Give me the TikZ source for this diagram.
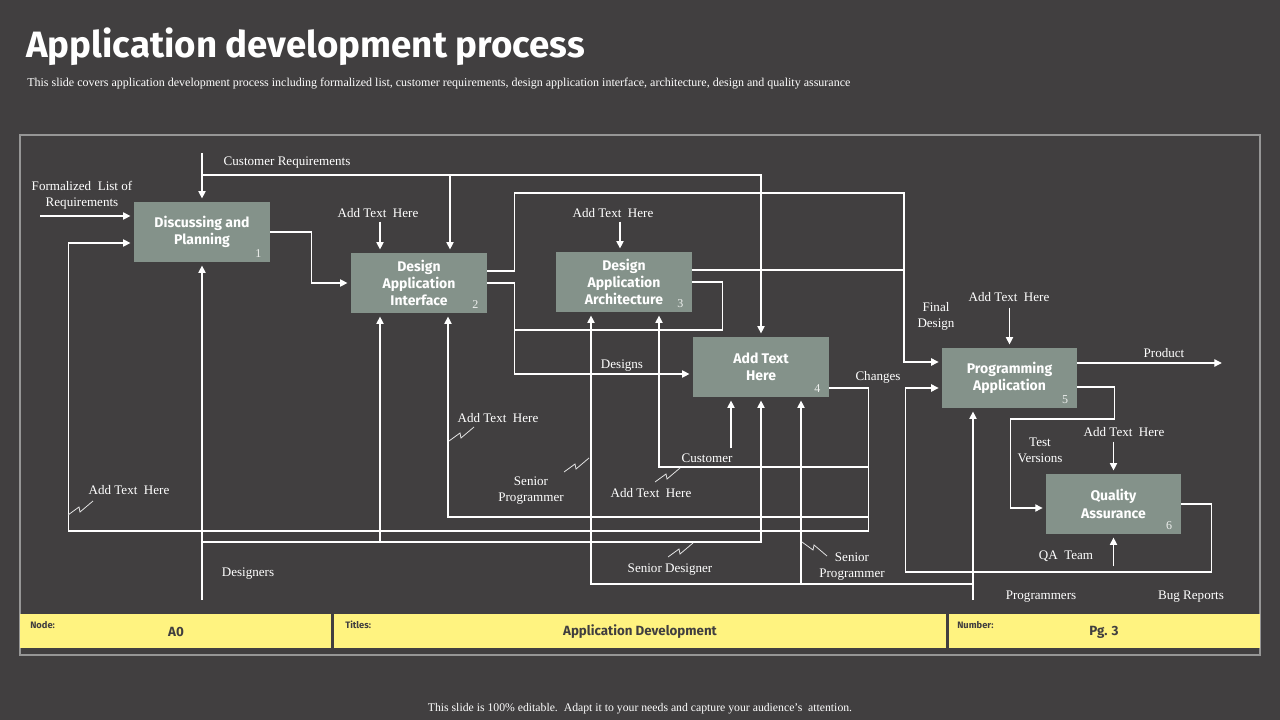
\documentclass[tikz,border=0pt]{standalone}
\usepackage{fontspec}
\setmainfont{Liberation Serif}
\newfontfamily\headfont{Fira Sans}
\usetikzlibrary{arrows.meta,calc}

\definecolor{slidebg}{RGB}{65,63,64}
\definecolor{procfill}{RGB}{132,146,138}
\definecolor{bandfill}{RGB}{255,243,128}
\definecolor{framegray}{RGB}{150,150,150}
\definecolor{bandtext}{RGB}{64,62,63}

\tikzset{
  proc/.style={fill=procfill,minimum width=102pt,minimum height=45pt,inner sep=0pt,
    text=white,align=center,font=\headfont\bfseries\fontsize{10.5}{13}\selectfont},
  num/.style={text=white!85!procfill,font=\fontsize{9}{10}\selectfont,inner sep=0pt},
  lbl/.style={text=white,align=center,inner sep=0pt,yshift=-1.8pt,font=\fontsize{9.8}{12}\selectfont},
  flow/.style={draw=white,line width=0.8pt},
  arr/.style={flow,-{Triangle[length=5.5pt,width=5.5pt]},shorten >=2.5pt},
  bolt/.pic={\draw[white!85!slidebg,line width=0.6pt] (0,0) -- (11,-8) -- (12,-3) -- (25,-14);},
  celltag/.style={text=bandtext,font=\headfont\bfseries\fontsize{7}{8}\selectfont,anchor=west,inner sep=0pt},
  cellval/.style={text=bandtext,font=\headfont\bfseries\fontsize{10}{11}\selectfont,inner sep=0pt},
}

\begin{document}
\begin{tikzpicture}[x=0.75pt,y=-0.75pt]
\fill[slidebg] (0,0) rectangle (1280,720);
\useasboundingbox (0,0) rectangle (1280,720);

% heading
\node[anchor=west,text=white,inner sep=0pt,font=\headfont\bfseries\fontsize{27.5}{30}\selectfont] (title) at (26,47) {Application development process};
\node[anchor=west,text=white,inner sep=0pt,font=\fontsize{9}{10}\selectfont] (sub) at (27,84) {This slide covers application development process including formalized list, customer requirements, design application interface, architecture, design and quality assurance};
\draw[framegray,line width=0.8pt] (20,135) rectangle (1260,655);

% process boxes
\node[proc] (b1) at (202,232) {Discussing and\\Planning};
\node[proc] (b2) at (419,283) {Design\\Application\\Interface};
\node[proc] (b3) at (624,282) {Design\\Application\\Architecture};
\node[proc] (b4) at (761,367) {Add Text\\Here};
\node[proc,minimum width=101pt] (b5) at (1009.5,378) {Programming\\Application};
\node[proc,minimum width=101pt] (b6) at (1113.5,504) {Quality\\Assurance};
\foreach \b/\n in {b1/1,b2/2,b3/3,b4/4,b5/5,b6/6}
  \node[num] (n\n) at ($(\b.south east)+(-12,-9)$) {\n};

% rails
\coordinate (fl) at (40,216);
\coordinate (cr) at (202,153);
\coordinate (crj) at (202,175);
\coordinate (fd) at (904,193);
\coordinate (dsg) at (202,600);
\coordinate (prg) at (973,600);
\coordinate (chg) at ($(b4.east)+(39,21)$);

% inputs and outputs
\draw[arr] (fl) -- ($(b1.west)+(0,-16)$);
\draw[arr] (b1.east) -- ++(41,0) |- (b2.west);
\draw[arr] ($(b2.east)+(0,-12)$) -- ++(27,0) |- (fd) |- ($(b5.west)+(0,-16)$);
\draw[flow] ($(b3.east)+(0,-12)$) -- (fd |- {$(b3.east)+(0,-12)$});
\draw[arr] (b2.east) -- ++(27,0) |- ($(b4.west)+(0,7)$);
\draw[flow] (b3.east) -- ++(30,0) |- ++(-208,48);
\draw[arr] ($(b4.east)+(0,21)$) -- (chg) |- ++(-800,143) |- ($(b1.west)+(0,11)$);
\draw[arr] ($(chg)+(0,79)$) -| ($(b3.south)+(35,0)$);
\draw[arr] ($(chg)+(0,129)$) -| ($(b2.south)+(29,0)$);
\draw[arr] ($(b5.east)+(0,-15)$) -- ++(148,0);
\draw[arr] ($(b5.east)+(0,9)$) -- ++(37,0) |- ++(-104,32) |- ($(b6.west)+(0,4)$);
\draw[arr] (b6.east) -- ++(30,0) |- ++(-306,68) |- ($(b5.west)+(0,10)$);

% controls
\draw[arr] (cr) -- (b1.north);
\draw[arr] (crj) -| (b4.north);
\draw[arr] (crj -| {$(b2.north)+(31,0)$}) -- ($(b2.north)+(31,0)$);
\draw[arr] ($(b2.north)+(-39,-31)$) -- ($(b2.north)+(-39,0)$);
\draw[arr] ($(b3.north)+(-4,-30)$) -- ($(b3.north)+(-4,0)$);
\draw[arr] ($(b5.north)+(0,-40)$) -- (b5.north);
\draw[arr] ($(b6.north)+(0,-32)$) -- (b6.north);

% mechanisms
\draw[arr] (dsg) -- (b1.south);
\draw[arr] ($(dsg)+(0,-58)$) -| (b4.south);
\draw[arr] ($(b2.south)+(-39,229)$) -- ($(b2.south)+(-39,0)$);
\draw[arr] (prg) -- (prg |- b5.south);
\draw[arr] ($(prg)+(0,-16)$) -| ($(b3.south)+(-33,0)$);
\draw[arr] ($(b4.south)+(40,187)$) -- ($(b4.south)+(40,0)$);
\draw[arr] ($(b4.south)+(-30,51)$) -- ($(b4.south)+(-30,0)$);
\draw[arr] ($(b6.south)+(0,32)$) -- (b6.south);

% labels
\node[lbl] (t1) at (82,193) {Formalized\ \ List of\\Requirements};
\node[lbl] (t2) at (287,160) {Customer Requirements};
\node[lbl] (t3) at (378,211) {Add Text\ \ Here};
\node[lbl] (t4) at (613,211) {Add Text\ \ Here};
\node[lbl] (t5) at (936,314) {Final\\Design};
\node[lbl] (t6) at (1009,295) {Add Text\ \ Here};
\node[lbl] (t7) at (1164,351) {Product};
\node[lbl] (t8) at (622,363) {Designs};
\node[lbl] (t9) at (878,375) {Changes};
\node[lbl] (t10) at (498,416) {Add Text\ \ Here};
\node[lbl] (t11) at (1124,430) {Add Text\ \ Here};
\node[lbl] (t12) at (1040,448) {Test\\Versions};
\node[lbl] (t13) at (707,456) {Customer};
\node[lbl] (t14) at (531,488) {Senior\\Programmer};
\node[lbl] (t15) at (129,488) {Add Text\ \ Here};
\node[lbl] (t16) at (651,491) {Add Text\ \ Here};
\node[lbl] (t17) at (1066,554) {QA\ \ Team};
\node[lbl] (t18) at (852,564) {Senior\\Programmer};
\node[lbl] (t19) at (670,567) {Senior Designer};
\node[lbl] (t20) at (248,571) {Designers};
\node[lbl] (t21) at (1041,594) {Programmers};
\node[lbl] (t22) at (1191,594) {Bug Reports};

\pic at (68,515) {bolt};
\pic at (449,441) {bolt};
\pic at (564,472) {bolt};
\pic at (655,482) {bolt};
\pic at (668,557) {bolt};
\pic[yscale=-1] at (802,542) {bolt};

% title band
\fill[bandfill] (20,614) rectangle (331,648);
\fill[bandfill] (334,614) rectangle (946,648);
\fill[bandfill] (949,614) rectangle (1260,648);
\node[celltag] (k1) at (30,625) {Node:};
\node[cellval] (v1) at (176,632) {A0};
\node[celltag] (k2) at (345,625) {Titles:};
\node[cellval] (v2) at (640,632) {Application Development};
\node[celltag] (k3) at (957,625) {Number:};
\node[cellval] (v3) at (1104,632) {Pg. 3};

\node[text=white,inner sep=0pt,font=\fontsize{8.8}{10}\selectfont] (foot) at (640,709) {This slide is 100\% editable.\ \ Adapt it to your needs and capture your audience's\ \ attention.};
\end{tikzpicture}
\end{document}
